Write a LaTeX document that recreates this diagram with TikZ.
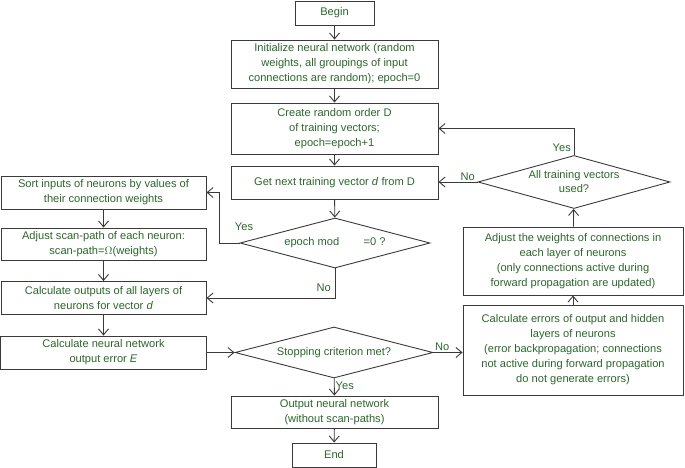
\documentclass[tikz,border=0pt]{standalone}
\usepackage{fontspec}
\setmainfont{Liberation Sans}
\usepackage{xcolor}
\usepackage{tikz}
\usetikzlibrary{arrows.meta,shapes.geometric}
\definecolor{line}{HTML}{3A3A3A}
\definecolor{txt}{HTML}{2B662B}
\tikzset{
  box/.style={rectangle, draw=line, line width=0.9pt, text=txt, align=center,
    inner sep=0pt, font=\fontsize{11.1}{15}\selectfont},
  dec/.style={diamond, draw=line, line width=0.9pt, inner sep=0pt},
  dectext/.style={text=txt, align=center, inner sep=0pt,
    font=\fontsize{11.1}{14}\selectfont},
  arr/.style={-{Straight Barb[length=6pt,width=10pt]}, draw=line, line width=0.9pt},
  lab/.style={text=txt, font=\fontsize{11.1}{13}\selectfont, inner sep=1pt}
}
\begin{document}
\begin{tikzpicture}[x=1pt,y=-1pt]
  \useasboundingbox (0,0) rectangle (685,468);

  % main column
  \node[box, minimum width=79, minimum height=24] (begin) at (334.5,13) {Begin};
  \node[box, minimum width=207, minimum height=48] (init) at (334.5,64)
    {Initialize neural network (random\\weights, all groupings of input\\connections are random); epoch=0};
  \node[box, minimum width=207, minimum height=51] (create) at (334.5,128.5)
    {Create random order D\\of training vectors;\\epoch=epoch+1};
  \node[box, minimum width=207, minimum height=33] (getnext) at (334.5,182.5)
    {Get next training vector \textit{d} from D};
  \node[dec, minimum width=190, minimum height=50] (epochmod) at (335,243) {};
  \node[dectext] (epochmodtext) at (epochmod) {epoch mod\hspace{2.2em}=0 ?};
  \node[dec, minimum width=198, minimum height=51] (stop) at (334,352.5) {};
  \node[dectext] (stoptext) at (stop) {Stopping criterion met?};
  \node[box, minimum width=207, minimum height=32] (output) at (334.5,412)
    {Output neural network\\(without scan-paths)};
  \node[box, minimum width=84, minimum height=24] (end) at (334,455) {End};

  % left column
  \node[box, minimum width=205, minimum height=33] (sort) at (103.5,192.5)
    {Sort inputs of neurons by values of\\their connection weights};
  \node[box, minimum width=205, minimum height=32] (scan) at (103.5,244)
    {Adjust scan-path of each neuron:\\scan-path=$\Omega$(weights)};
  \node[box, minimum width=205, minimum height=33] (calcout) at (103.5,298)
    {Calculate outputs of all layers of\\neurons for vector \textit{d}};
  \node[box, minimum width=206, minimum height=33] (calcerr) at (103.5,352.5)
    {Calculate neural network\\output error \textit{E}};

  % right column
  \node[box, minimum width=220, minimum height=90] (backprop) at (573,350)
    {Calculate errors of output and hidden\\layers of neurons\\(error backpropagation; connections\\not active during forward propagation\\do not generate errors)};
  \node[box, minimum width=220, minimum height=68] (adjw) at (573,261)
    {Adjust the weights of connections in\\each layer of neurons\\(only connections active during\\forward propagation are updated)};
  \node[dec, minimum width=192, minimum height=53] (alltv) at (574,182) {};
  \node[dectext] (alltvtext) at (alltv) {All training vectors\\used?};

  % connectors
  \draw[arr] (begin) -- (init);
  \draw[arr] (init) -- (create);
  \draw[arr] (create) -- (getnext);
  \draw[arr] (getnext) -- (epochmod);
  \draw[arr] (epochmod.west) -- ++(-20,0) |- (sort.east);
  \node[lab, above] at (244,232) {Yes};
  \draw[arr] (epochmod.south) |- (calcout.east);
  \node[lab, left] at (332,288) {No};
  \draw[arr] (sort) -- (scan);
  \draw[arr] (scan) -- (calcout);
  \draw[arr] (calcout) -- (calcerr);
  \draw[arr] (calcerr) -- (stop);
  \draw[arr] (stop.east) -- (stop.east -| backprop.west)
    node[lab, pos=0.3, above] {No};
  \draw[arr] (stop) -- (output) node[lab, pos=0.45, right] {Yes};
  \draw[arr] (output) -- (end);
  \draw[arr] (backprop) -- (adjw);
  \draw[arr] (adjw) -- (alltv);
  \draw[arr] (alltv.west) -- (alltv.west -| getnext.east)
    node[lab, pos=0.25, above] {No};
  \draw[arr] (alltv.north) |- (create.east);
  \node[lab, left] at (572,148) {Yes};
\end{tikzpicture}
\end{document}
